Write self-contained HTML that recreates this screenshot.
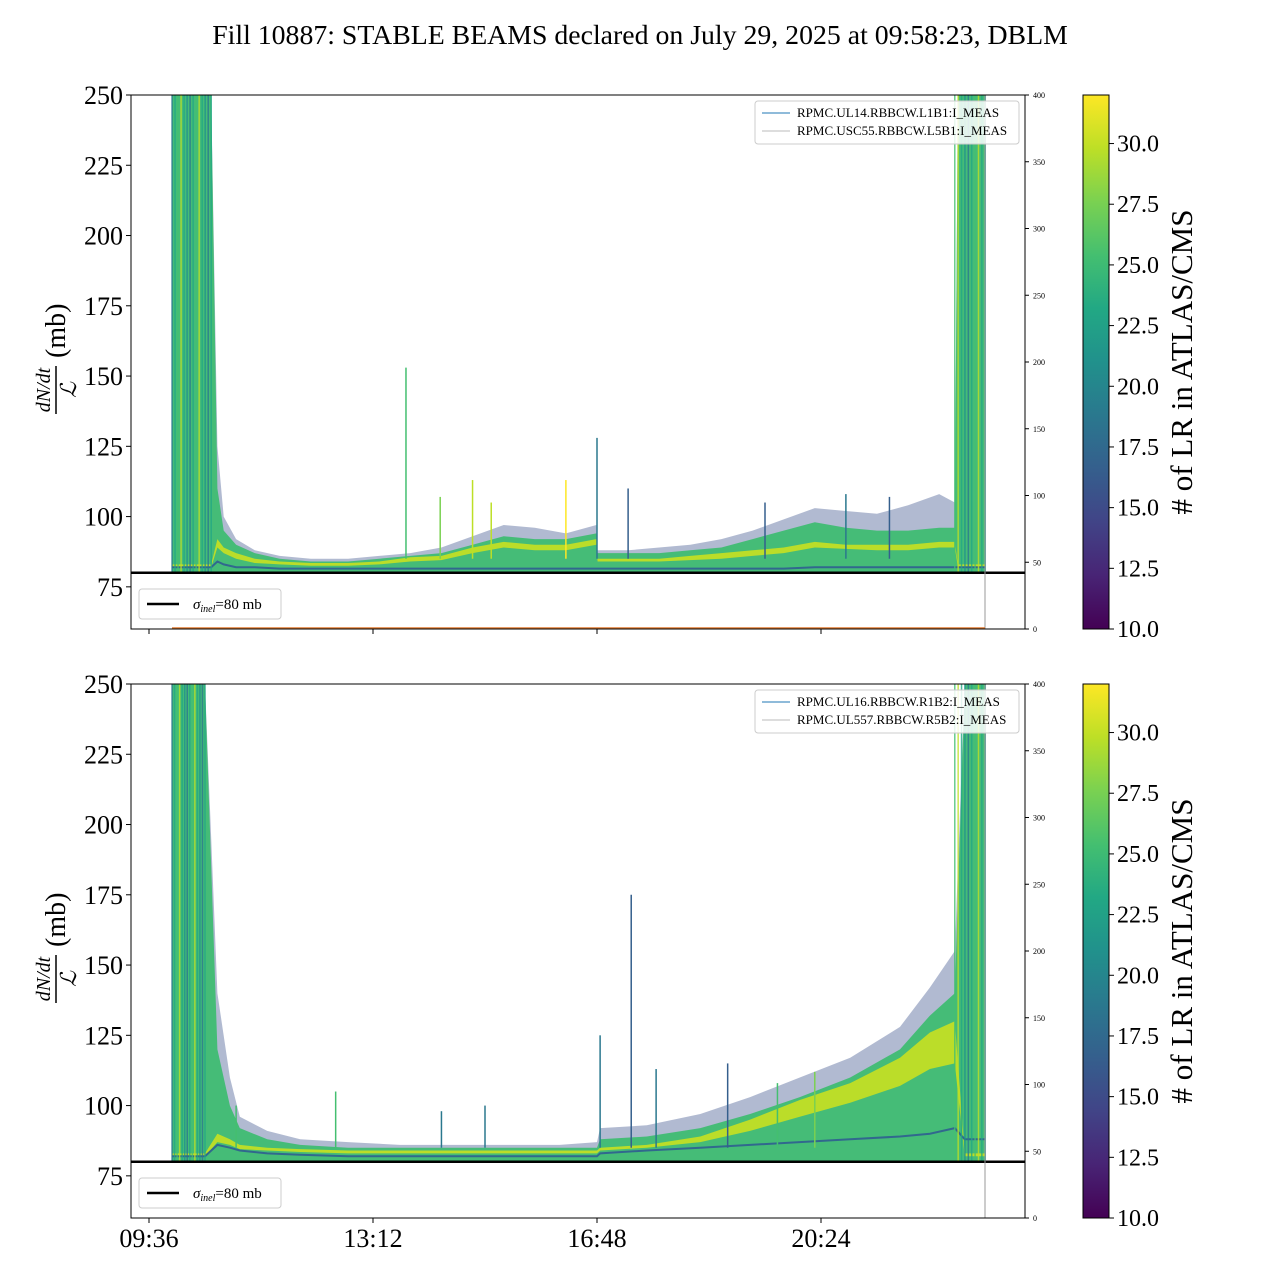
<!DOCTYPE html>
<html><head><meta charset="utf-8">
<style>
html,body{margin:0;padding:0;background:#fff;}
svg{display:block;font-family:"Liberation Serif",serif;}
</style></head>
<body>
<svg id="chart" width="1280" height="1280" viewBox="0 0 1280 1280">
<defs>
<linearGradient id="viridis" x1="0" y1="1" x2="0" y2="0">
<stop offset="0" stop-color="#440154"/><stop offset="0.1" stop-color="#482475"/><stop offset="0.2" stop-color="#414487"/>
<stop offset="0.3" stop-color="#355f8d"/><stop offset="0.4" stop-color="#2a788e"/><stop offset="0.5" stop-color="#21918c"/>
<stop offset="0.6" stop-color="#22a884"/><stop offset="0.7" stop-color="#44bf70"/><stop offset="0.8" stop-color="#7ad151"/>
<stop offset="0.9" stop-color="#bddf26"/><stop offset="1" stop-color="#fde725"/>
</linearGradient>
</defs>
<text x="640" y="44" font-size="27.8" text-anchor="middle">Fill 10887: STABLE BEAMS declared on July 29, 2025 at 09:58:23, DBLM</text>
<g id="panels"></g>
</svg>
<script>
// ---- data (hours of day, mb) ----
const xTickLabels = ["09:36","13:12","16:48","20:24"];
const xTickHours = [9.6,13.2,16.8,20.4];
const yTicks = [75,100,125,150,175,200,225,250];
const rightTicks = [0,50,100,150,200,250,300,350,400];
const cbTicks = [10.0,12.5,15.0,17.5,20.0,22.5,25.0,27.5,30.0];

const topTimes = [9.97,10.1,10.6,10.7,10.8,11.0,11.3,11.7,12.2,12.8,13.3,13.8,14.3,14.8,15.3,15.8,16.3,16.79,16.81,17.3,17.8,18.3,18.8,19.3,19.8,20.3,20.8,21.3,21.8,22.3,22.55,22.6,23.04];
const topOuter = [250,250,250,125,100,92,88,86,85,85,86,87,89,93,97,96,94,97,88,88,89,90,92,95,99,103,102,101,104,108,105,250,250];
const topGreen = [250,250,250,110,95,90,87,85,84,84,85,86,87,90,93,92,92,94,87,87,87,88,89,92,95,98,96,95,95,96,96,250,250];
const topYellowHi = [83,83,83,92,89,87,85,84,83.5,83.5,84,85.5,86,89,91,90,90,92,85,85,85,86,87,88,89,91,90,90,90,91,91,83,83];
const topYellowLo = [82,82,82,89,87,85,83.5,83,82.5,82.5,83,84,84.5,87,89,88,88,90,84,84,84,84.5,85,86,87,89,88.5,88,88,89,89,82,82];
const topDark = [82,82,82,84,83,82,82,81.5,81.5,81.5,81.5,81.5,81.5,81.5,81.5,81.5,81.5,81.5,81.5,81.5,81.5,81.5,81.5,81.5,81.5,82,82,82,82,82,82,82,82];
const topSpikeT = [13.73,14.28,14.8,15.1,16.3,16.8,17.3,19.5,20.8,21.5];
const topSpikeV = [153,107,113,105,113,128,110,105,108,107];
const topSpikeC = [0.7,0.75,0.9,0.85,0.95,0.35,0.3,0.3,0.35,0.3];

const botTimes = [9.97,10.1,10.5,10.7,10.9,11.06,11.5,12.03,12.8,13.63,14.5,15.24,16.2,16.8,16.85,17.6,18.46,19.26,20.06,20.87,21.67,22.15,22.55,22.71,23.04];
const botOuter = [250,250,250,140,110,96,91,88,87,86,86,86,86,87,92,93,97,103,110,117,128,142,155,250,250];
const botGreen = [250,250,250,120,100,92,88,86,85,85,85,85,85,85,88,89,92,97,103,110,120,132,140,250,250];
const botYellowHi = [83,83,83,90,88,86,85,84.5,84,84,84,84,84,84,85,86,89,95,102,108,117,126,130,83,83];
const botYellowLo = [82,82,82,87,86,84.5,84,83.5,83,83,83,83,83,83,84,85,87,91,96,101,107,113,115,82,82];
const botDark = [82,82,82,86,85,84,83,82.5,82,82,82,82,82,82,83,84,85,86,87,88,89,90,92,88,88];
const botSpikeT = [11.0,12.6,14.3,15.0,16.85,17.35,17.75,18.9,19.7,20.3];
const botSpikeV = [100,105,98,100,125,175,113,115,108,112];
const botSpikeC = [0.7,0.7,0.4,0.4,0.35,0.3,0.35,0.3,0.7,0.8];

const topLegend = ["RPMC.UL14.RBBCW.L1B1:I_MEAS","RPMC.USC55.RBBCW.L5B1:I_MEAS"];
const botLegend = ["RPMC.UL16.RBBCW.R1B2:I_MEAS","RPMC.UL557.RBBCW.R5B2:I_MEAS"];

const NS = "http://www.w3.org/2000/svg";
const X0 = 131, X1 = 1025;
function xs(t){ return 149 + (t - 9.6) * 224 / 3.6; }
function mk(tag, attrs, parent){ const e = document.createElementNS(NS, tag); for (const k in attrs) e.setAttribute(k, attrs[k]); parent.appendChild(e); return e; }
const vir = ["#440154","#482475","#414487","#355f8d","#2a788e","#21918c","#22a884","#44bf70","#7ad151","#bddf26","#fde725"];
function vcol(f){ return vir[Math.max(0, Math.min(10, Math.round(f * 10)))]; }

function drawPanel(top, times, outer, green, yHi, yLo, dark, spT, spV, spC, legend, showX, orange){
  const root = document.getElementById("panels");
  const g = mk("g", {}, root);
  
  
  const bot = top + 534;
  function ys(v){ return top + (250 - Math.min(v, 250)) * (bot - top) / 190; }
  function area(hi, lo, fill, op, name){
    let d = "";
    times.forEach((t, i) => { d += (i ? "L" : "M") + xs(t).toFixed(1) + "," + ys(hi[i]).toFixed(1); });
    for (let i = times.length - 1; i >= 0; i--) d += "L" + xs(times[i]).toFixed(1) + "," + ys(lo[i]).toFixed(1);
    const p = mk("path", {d: d + "Z", fill: fill, "fill-opacity": op}, g);
    
    
  }
  const floor = times.map(() => 80);
  area(outer, floor, "#3b528b", 0.4, "envelope-outer");
  area(green, floor, "#3fbc72", 0.95, "envelope-green");
  area(yHi, yLo, "#c8e020", 0.9, "band-yellow");
  let d = "";
  times.forEach((t, i) => { d += (i ? "L" : "M") + xs(t).toFixed(1) + "," + ys(dark[i]).toFixed(1); });
  const dl = mk("path", {d: d, fill: "none", stroke: "#31688e", "stroke-width": 2}, g);
  
  
  const cols = [0.35,0.55,0.7,0.85,0.6,0.45];
  for (let k = 0; k < 14; k++){
    const t = times[0] + k * (times[2] - times[0]) / 13;
    const l = mk("line", {x1: xs(t), x2: xs(t), y1: top, y2: ys(80), stroke: vcol(cols[k % 6]), "stroke-width": 1.5, "stroke-opacity": 0.8}, g);
    
    
  }
  const n = times.length;
  for (let k = 0; k < 10; k++){
    const t = times[n - 3] + k * (times[n - 1] - times[n - 3]) / 9;
    const l = mk("line", {x1: xs(t), x2: xs(t), y1: top, y2: ys(80), stroke: vcol(cols[(k + 2) % 6]), "stroke-width": 1.5, "stroke-opacity": 0.8}, g);
    
    
  }
  spT.forEach((t, i) => {
    const l = mk("line", {x1: xs(t), x2: xs(t), y1: ys(spV[i]), y2: ys(85), stroke: vcol(spC[i]), "stroke-width": 1.5}, g);
    
    
  });
  const sl = mk("line", {x1: X0, x2: X1, y1: ys(80), y2: ys(80), stroke: "#000", "stroke-width": 2.5}, g);
  
  
  const vl = mk("line", {x1: 985, x2: 985, y1: top, y2: bot, stroke: "#999", "stroke-width": 1}, g);
  
  
  if (orange){
    const ol = mk("line", {x1: 172, x2: 985, y1: bot - 1, y2: bot - 1, stroke: "#e07a30", "stroke-width": 1.5}, g);
    
    
  }
  const fr = mk("rect", {x: X0, y: top, width: X1 - X0, height: bot - top, fill: "none", stroke: "#000", "stroke-width": 1}, g);
  
  
  yTicks.forEach(v => {
    const tk = mk("line", {x1: X0 - 5, x2: X0, y1: ys(v), y2: ys(v), stroke: "#000"}, g);
    
    
    const tx = mk("text", {x: X0 - 8, y: ys(v) + 9, "font-size": 26, "text-anchor": "end"}, g);
    tx.textContent = v;
    
    
  });
  rightTicks.forEach(v => {
    const yy = bot - v * (bot - top) / 400;
    const tk = mk("line", {x1: X1, x2: X1 + 4, y1: yy, y2: yy, stroke: "#000"}, g);
    
    
    const tx = mk("text", {x: X1 + 8, y: yy + 3, "font-size": 8}, g);
    tx.textContent = v;
    
    
  });
  xTickHours.forEach((h, i) => {
    const tk = mk("line", {x1: xs(h), x2: xs(h), y1: bot, y2: bot + 5, stroke: "#000"}, g);
    
    
    if (showX){
      const tx = mk("text", {x: xs(h), y: bot + 29, "font-size": 26, "text-anchor": "middle"}, g);
      tx.textContent = xTickLabels[i];
      
      
    }
  });
  const yl = mk("g", {transform: "translate(56," + (top + 267) + ") rotate(-90)"}, g);
  
  
  const t1 = mk("text", {x: -28, y: -6, "font-size": 20, "font-style": "italic", "text-anchor": "middle"}, yl); t1.textContent = "dN/dt";
  mk("line", {x1: -52, x2: -4, y1: 0, y2: 0, stroke: "#000", "stroke-width": 1.5}, yl);
  const t2 = mk("text", {x: -28, y: 20, "font-size": 22, "font-style": "italic", "text-anchor": "middle"}, yl); t2.textContent = "ℒ";
  const t3 = mk("text", {x: 4, y: 9, "font-size": 28}, yl); t3.textContent = "(mb)";
  const lg = mk("g", {}, g);
  
  
  mk("rect", {x: 755, y: top + 6, width: 264, height: 43, rx: 3, fill: "#fff", "fill-opacity": 0.85, stroke: "#ccc"}, lg);
  legend.forEach((s, i) => {
    const yy = top + 18 + i * 18;
    mk("line", {x1: 762, x2: 790, y1: yy, y2: yy, stroke: i ? "#bbb" : "#1f77b4", "stroke-width": 1}, lg);
    const tx = mk("text", {x: 797, y: yy + 4, "font-size": 13}, lg);
    tx.textContent = s;
    
    
  });
  const sg = mk("g", {}, g);
  
  
  mk("rect", {x: 139, y: top + 494, width: 142, height: 30, rx: 3, fill: "#fff", stroke: "#ccc"}, sg);
  mk("line", {x1: 147, x2: 179, y1: top + 509, y2: top + 509, stroke: "#000", "stroke-width": 2.5}, sg);
  const st = mk("text", {x: 193, y: top + 514, "font-size": 15}, sg);
  st.innerHTML = '<tspan font-style="italic">σ</tspan><tspan font-style="italic" font-size="10" dy="3">inel</tspan><tspan dy="-3">=80 mb</tspan>';
  const cb = mk("g", {}, g);
  
  
  mk("rect", {x: 1083, y: top, width: 26, height: bot - top, fill: "url(#viridis)", stroke: "#000", "stroke-width": 1}, cb);
  cbTicks.forEach(v => {
    const yy = bot - (v - 10) * (bot - top) / 22;
    mk("line", {x1: 1109, x2: 1114, y1: yy, y2: yy, stroke: "#000"}, cb);
    const tx = mk("text", {x: 1117, y: yy + 8, "font-size": 24}, cb);
    tx.textContent = v.toFixed(1);
    
    
  });
  const ct = mk("text", {x: 0, y: 0, "font-size": 31, "text-anchor": "middle", transform: "translate(1192," + (top + 267) + ") rotate(-90)"}, cb);
  ct.textContent = "# of LR in ATLAS/CMS";
  
  
}
drawPanel(95, topTimes, topOuter, topGreen, topYellowHi, topYellowLo, topDark, topSpikeT, topSpikeV, topSpikeC, topLegend, false, true);
drawPanel(684, botTimes, botOuter, botGreen, botYellowHi, botYellowLo, botDark, botSpikeT, botSpikeV, botSpikeC, botLegend, true, false);
</script>
</body></html>
